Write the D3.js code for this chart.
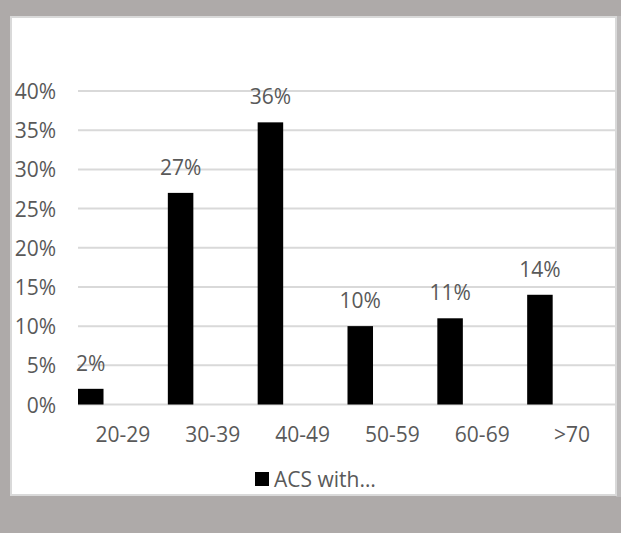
<!DOCTYPE html>
<html>
<head>
<meta charset="utf-8">
<script src="https://cdn.jsdelivr.net/npm/d3@7"></script>
<style>
  html, body { margin: 0; padding: 0; background: #aeaaa9; }
  svg { display: block; }
  text { font-family: "Open Sans", "Noto Sans", sans-serif; fill: #595959; }
</style>
</head>
<body>
<svg id="chart" width="621" height="533"></svg>
<script>
// Share of ACS cases by age group
const categories = ["20-29", "30-39", "40-49", "50-59", "60-69", ">70"];
const acsWith = [2, 27, 36, 10, 11, 14];
const yTicks = [0, 5, 10, 15, 20, 25, 30, 35, 40];
const seriesName = "ACS with…";
const fontSize = 21;

const svg = d3.select("#chart");

// chart frame
svg.append("rect").attr("x", 0).attr("y", 0).attr("width", 621).attr("height", 533)
  .attr("fill", "#aeaaa9");
svg.append("rect").attr("x", 616).attr("y", 16).attr("width", 5).attr("height", 481)
  .attr("fill", "#bcbaba");
svg.append("rect").attr("x", 11).attr("y", 17).attr("width", 605).attr("height", 478)
  .attr("fill", "#ffffff").attr("stroke", "#d9d9d9").attr("stroke-width", 2);

const plotLeft = 78, plotRight = 617, gridRight = 615;
const x = d3.scaleBand().domain(categories).range([plotLeft, plotRight]).padding(0);
const y = d3.scaleLinear().domain([0, 40]).range([404.5, 91]);

// horizontal gridlines
svg.append("g").selectAll("line").data(yTicks).join("line")
  .attr("x1", plotLeft).attr("x2", gridRight)
  .attr("y1", d => y(d)).attr("y2", d => y(d))
  .attr("stroke", "#d9d9d9").attr("stroke-width", 2);

// y axis labels
const yAxis = d3.axisLeft(y).tickValues(yTicks).tickFormat(d => d + "%").tickSize(0).tickPadding(0);
const gy = svg.append("g").attr("transform", "translate(56,0)").call(yAxis);
gy.select(".domain").remove();
gy.selectAll("text").attr("font-size", fontSize).attr("fill", "#595959")
  .attr("font-family", "'Open Sans', sans-serif").attr("dy", "0.36em");

// x axis labels
const xAxis = d3.axisBottom(x).tickSize(0).tickPadding(0);
const gx = svg.append("g").attr("transform", "translate(0,427)").call(xAxis);
gx.select(".domain").remove();
gx.selectAll("text").attr("font-size", fontSize).attr("fill", "#595959")
  .attr("font-family", "'Open Sans', sans-serif").attr("dy", "0.72em");

// bars sit at the left of each category slot
const barW = x.bandwidth() * 0.284;
svg.append("g").selectAll("rect").data(categories).join("rect")
  .attr("x", d => x(d))
  .attr("y", (d, i) => y(acsWith[i]))
  .attr("width", barW)
  .attr("height", (d, i) => y(0) - y(acsWith[i]))
  .attr("fill", "#000000");

// value labels
svg.append("g").selectAll("text").data(categories).join("text")
  .attr("x", d => x(d) + barW / 2)
  .attr("y", (d, i) => y(acsWith[i]) - 18)
  .attr("text-anchor", "middle")
  .attr("font-size", fontSize)
  .text((d, i) => acsWith[i] + "%");

// legend
const lg = svg.append("g");
lg.append("rect").attr("x", 255).attr("y", 472).attr("width", 14).attr("height", 14).attr("fill", "#000");
lg.append("text").attr("x", 274).attr("y", 487).attr("font-size", fontSize).text(seriesName);
</script>
</body>
</html>
